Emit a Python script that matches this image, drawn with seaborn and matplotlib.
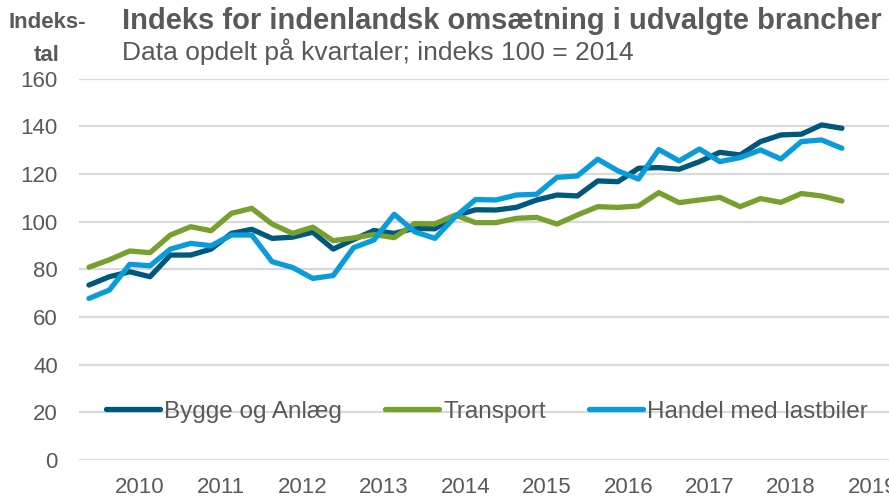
import matplotlib
matplotlib.use("Agg")
import numpy as np
import pandas as pd
import matplotlib.pyplot as plt
import seaborn as sns

# Style
sns.set_theme(style="white")
plt.rcParams["font.family"] = ["Liberation Sans", "DejaVu Sans"]

GREY = "#595959"

# ------------------------------------
# Data (quarterly, 2009K4 - 2019K1; index 100 = 2014)
# ------------------------------------
bygge = [73.4, 76.9, 79.0, 76.9, 86.0, 86.0, 88.5, 95.1, 96.8, 93.0,
         93.5, 95.6, 88.5, 92.5, 96.3, 95.1, 97.2, 97.0, 102.5, 105.0,
         104.9, 106.0, 109.1, 111.2, 110.8, 117.1, 116.8, 122.4, 122.7, 122.0,
         125.2, 129.1, 128.0, 133.6, 136.4, 136.7, 140.6, 139.2]
transport = [80.9, 84.0, 87.7, 87.0, 94.4, 97.9, 96.2, 103.5, 105.6, 99.0,
             95.1, 97.7, 92.0, 93.2, 94.6, 93.3, 99.2, 99.1, 102.8, 99.6,
             99.6, 101.4, 101.8, 99.0, 102.8, 106.3, 106.0, 106.6, 112.2, 108.0,
             109.1, 110.2, 106.3, 109.7, 108.1, 111.8, 110.8, 108.7]
handel = [67.8, 71.3, 82.1, 81.5, 88.5, 90.9, 89.9, 94.4, 94.4, 83.2,
          80.8, 76.2, 77.4, 89.1, 92.3, 103.1, 95.8, 93.0, 102.1, 109.3,
          109.1, 111.2, 111.5, 118.6, 119.2, 126.2, 121.3, 117.9, 130.3, 125.5,
          130.5, 125.2, 126.9, 130.1, 126.3, 133.6, 134.3, 130.8]

series_names = ["Bygge og Anlæg", "Transport", "Handel med lastbiler"]
colors = ["#00587c", "#78a02c", "#0a9bdb"]

years = ["2010", "2011", "2012", "2013", "2014", "2015", "2016", "2017", "2018", "2019"]
first_q1 = 1  # position of 2010K1 in the series (series starts 2009K4)

df = pd.DataFrame({
    "t": list(range(len(bygge))) * 3,
    "value": bygge + transport + handel,
    "series": [series_names[0]] * len(bygge)
              + [series_names[1]] * len(transport)
              + [series_names[2]] * len(handel),
})

# ------------------------------------
# Plot
# ------------------------------------
fig = plt.figure(figsize=(8.89, 4.99), dpi=100)
ax = fig.add_axes([78.8 / 889, 39 / 499, 854.7 / 889, 381.3 / 499])

sns.lineplot(
    data=df, x="t", y="value", hue="series",
    hue_order=series_names, palette=colors,
    linewidth=3.8, ax=ax, legend=False,
    solid_capstyle="round", solid_joinstyle="round",
)

ax.set_xlim(-0.5, 41.5)
ax.set_ylim(0, 160)
ax.set_yticks(range(0, 161, 20))
ax.set_xticks([first_q1 + 1.5 + 4 * i for i in range(len(years))])
ax.set_xticklabels(years)
ax.set_xlabel("")
ax.set_ylabel("")

ax.grid(axis="y", color="#d9d9d9", linewidth=1.6)
ax.set_axisbelow(True)
for s in ax.spines.values():
    s.set_visible(False)
ax.tick_params(axis="both", length=0, labelsize=16, colors=GREY)
ax.tick_params(axis="y", pad=15)
ax.tick_params(axis="x", pad=12.5)

# Legend
handles = [plt.Line2D([], [], color=c, linewidth=3.8, solid_capstyle="round")
           for c in colors]
leg = ax.legend(
    handles, series_names, loc="center left",
    bbox_to_anchor=(0.0324, 0.126), ncol=3, frameon=False,
    fontsize=17.5, handlelength=2.22, handletextpad=0.16,
    columnspacing=1.77, borderpad=0, borderaxespad=0,
)
for t in leg.get_texts():
    t.set_color(GREY)

# Titles
fig.text(122 / 889, 1 - 29 / 499, "Indeks for indenlandsk omsætning i udvalgte brancher",
         fontsize=21, fontweight="bold", color=GREY, va="baseline", ha="left")
fig.text(122 / 889, 1 - 60 / 499, "Data opdelt på kvartaler; indeks 100 = 2014",
         fontsize=19, color=GREY, va="baseline", ha="left")
fig.text(47 / 889, 1 - 28 / 499, "Indeks-", fontsize=16, fontweight="bold",
         color=GREY, va="baseline", ha="center")
fig.text(47 / 889, 1 - 61 / 499, "tal", fontsize=16, fontweight="bold",
         color=GREY, va="baseline", ha="center")

fig.savefig("out.png", dpi=100, facecolor="white")
